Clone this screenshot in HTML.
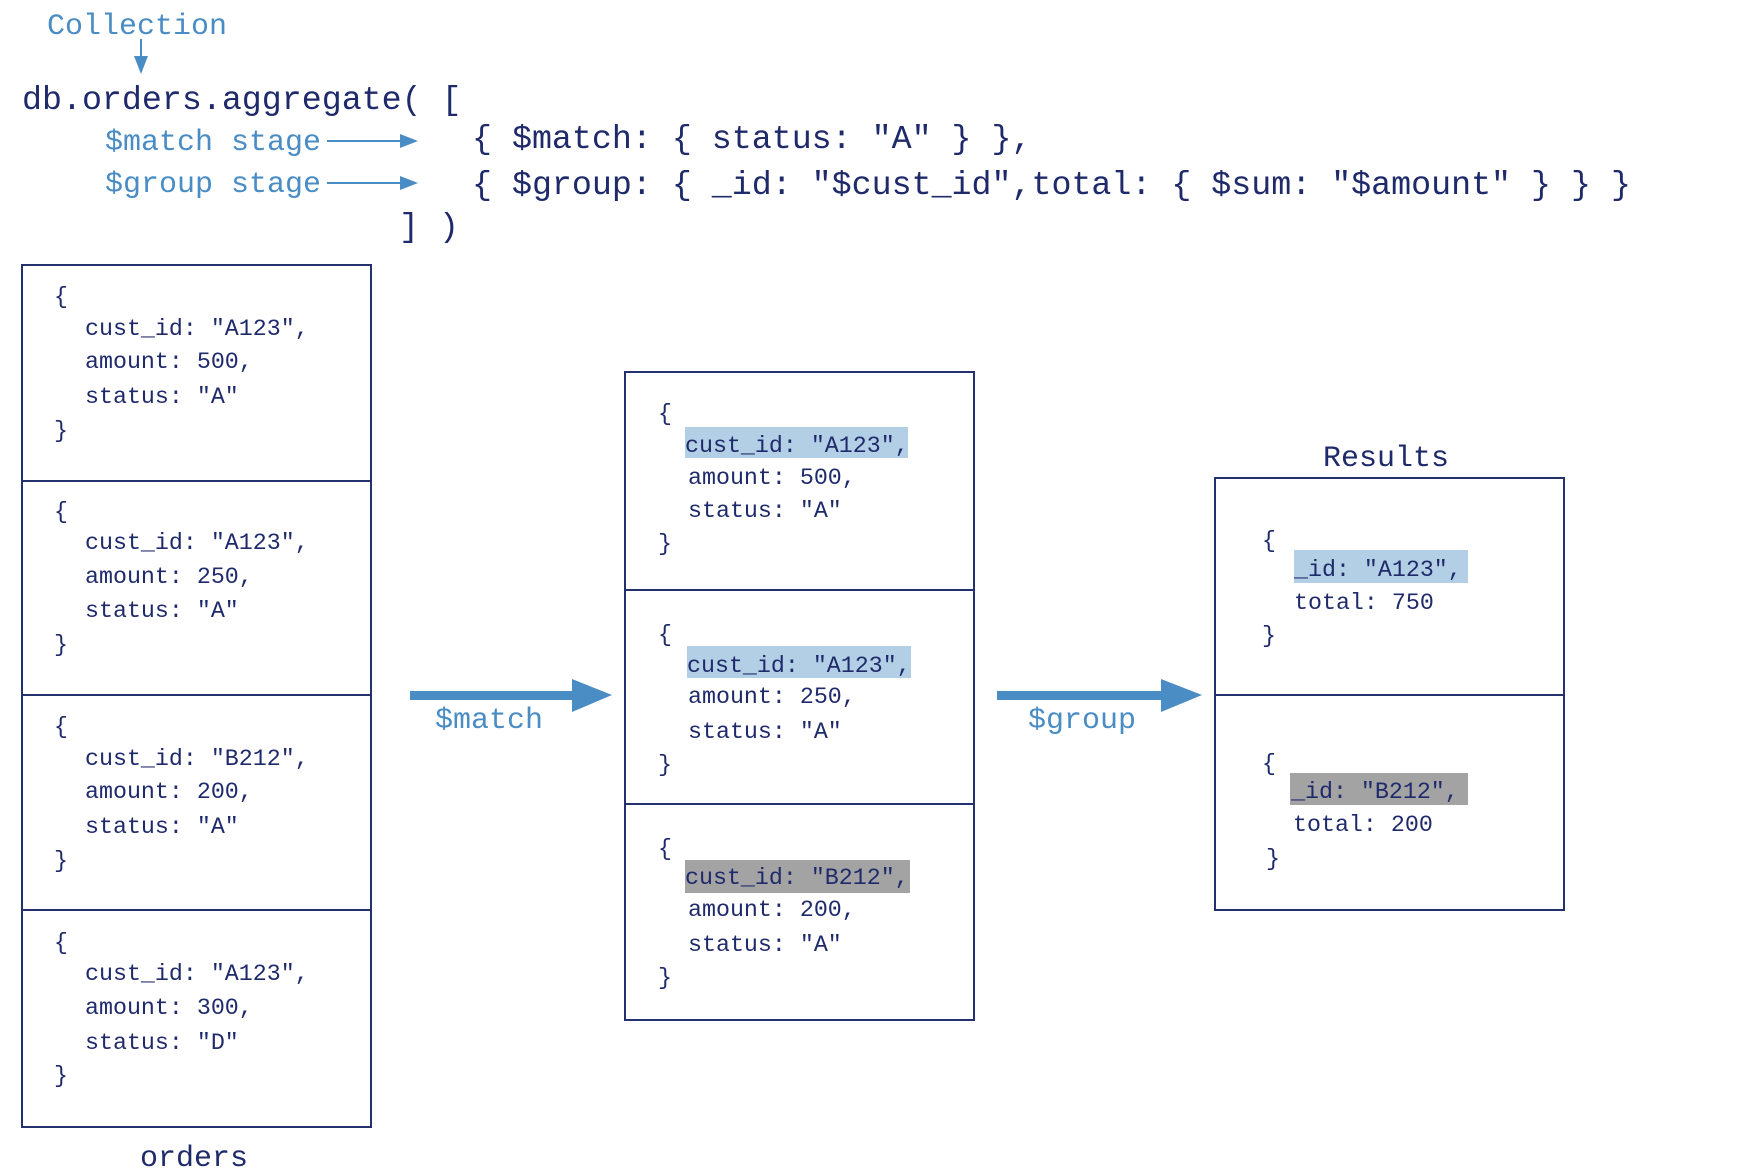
<!DOCTYPE html>
<html><head><meta charset="utf-8"><style>
html,body{margin:0;padding:0;background:#fff;}
svg{display:block;}
text{font-family:"Liberation Mono",monospace;white-space:pre;}
.n{fill:#1f2a6b;}
.b{fill:#4a8cc4;}
.t{font-size:23.3px;}
</style></head><body>
<svg width="1744" height="1174" viewBox="0 0 1744 1174" xmlns="http://www.w3.org/2000/svg">
<text class="b" x="47" y="34" font-size="30">Collection</text>
<line x1="141" y1="39" x2="141" y2="58" stroke="#4a8cc4" stroke-width="2"/>
<polygon points="134,56 148,56 141,74" fill="#4a8cc4"/>
<text class="n" x="22" y="109" font-size="33.3">db.orders.aggregate( [</text>
<text class="b" x="105" y="150" font-size="30">$match stage</text>
<text class="b" x="105" y="192" font-size="30">$group stage</text>
<line x1="327" y1="141" x2="402" y2="141" stroke="#4a8cc4" stroke-width="2"/>
<polygon points="400,134 400,148 418,141" fill="#4a8cc4"/>
<line x1="327" y1="183" x2="402" y2="183" stroke="#4a8cc4" stroke-width="2"/>
<polygon points="400,176 400,190 418,183" fill="#4a8cc4"/>
<text class="n" x="472" y="148" font-size="33.3">{ $match: { status: "A" } },</text>
<text class="n" x="472" y="194" font-size="33.3">{ $group: { _id: "$cust_id",total: { $sum: "$amount" } } }</text>
<text class="n" x="399" y="236" font-size="33.3">] )</text>

<g fill="none" stroke="#25306e" stroke-width="2">
<rect x="22" y="265" width="349" height="862"/>
<line x1="22" y1="481" x2="371" y2="481"/><line x1="22" y1="695" x2="371" y2="695"/><line x1="22" y1="910" x2="371" y2="910"/>
<rect x="625" y="372" width="349" height="648"/>
<line x1="625" y1="590" x2="974" y2="590"/><line x1="625" y1="804" x2="974" y2="804"/>
<rect x="1215" y="478" width="349" height="432"/>
<line x1="1215" y1="695" x2="1564" y2="695"/>
</g>

<g class="n t">
<text x="54" y="303">{</text><text x="85" y="335">cust_id: "A123",</text><text x="85" y="368">amount: 500,</text><text x="85" y="403">status: "A"</text><text x="54" y="437">}</text>
<text x="54" y="518">{</text><text x="85" y="549">cust_id: "A123",</text><text x="85" y="583">amount: 250,</text><text x="85" y="617">status: "A"</text><text x="54" y="651">}</text>
<text x="54" y="733">{</text><text x="85" y="765">cust_id: "B212",</text><text x="85" y="798">amount: 200,</text><text x="85" y="833">status: "A"</text><text x="54" y="867">}</text>
<text x="54" y="949">{</text><text x="85" y="980">cust_id: "A123",</text><text x="85" y="1014">amount: 300,</text><text x="85" y="1049">status: "D"</text><text x="54" y="1082">}</text>
</g>
<text class="n" x="194" y="1166" font-size="30" text-anchor="middle">orders</text>

<rect x="685" y="427" width="223" height="31" fill="#b3cfe5"/>
<rect x="687" y="646" width="224" height="32" fill="#b3cfe5"/>
<rect x="685" y="860" width="225" height="33" fill="#a3a3a3"/>
<g class="n t">
<text x="658" y="420">{</text><text x="685" y="452">cust_id: "A123",</text><text x="688" y="484">amount: 500,</text><text x="688" y="517">status: "A"</text><text x="658" y="550">}</text>
<text x="658" y="641">{</text><text x="687" y="672">cust_id: "A123",</text><text x="688" y="703">amount: 250,</text><text x="688" y="738">status: "A"</text><text x="658" y="771">}</text>
<text x="658" y="855">{</text><text x="685" y="884">cust_id: "B212",</text><text x="688" y="916">amount: 200,</text><text x="688" y="951">status: "A"</text><text x="658" y="984">}</text>
</g>

<text class="n" x="1386" y="466" font-size="30" text-anchor="middle">Results</text>
<rect x="1294" y="550" width="174" height="33" fill="#b3cfe5"/>
<rect x="1290" y="773" width="178" height="32" fill="#a3a3a3"/>
<g class="n t">
<text x="1262" y="547">{</text><text x="1294" y="576">_id: "A123",</text><text x="1294" y="609">total: 750</text><text x="1262" y="642">}</text>
<text x="1262" y="770">{</text><text x="1291" y="798">_id: "B212",</text><text x="1293" y="831">total: 200</text><text x="1266" y="865">}</text>
</g>

<rect x="410" y="691" width="165" height="9" fill="#4a8cc4"/>
<polygon points="572,679 572,712 612,695" fill="#4a8cc4"/>
<text class="b" x="435" y="728" font-size="30">$match</text>
<rect x="997" y="691" width="167" height="9" fill="#4a8cc4"/>
<polygon points="1161,679 1161,712 1202,695" fill="#4a8cc4"/>
<text class="b" x="1028" y="728" font-size="30">$group</text>
</svg>
</body></html>
